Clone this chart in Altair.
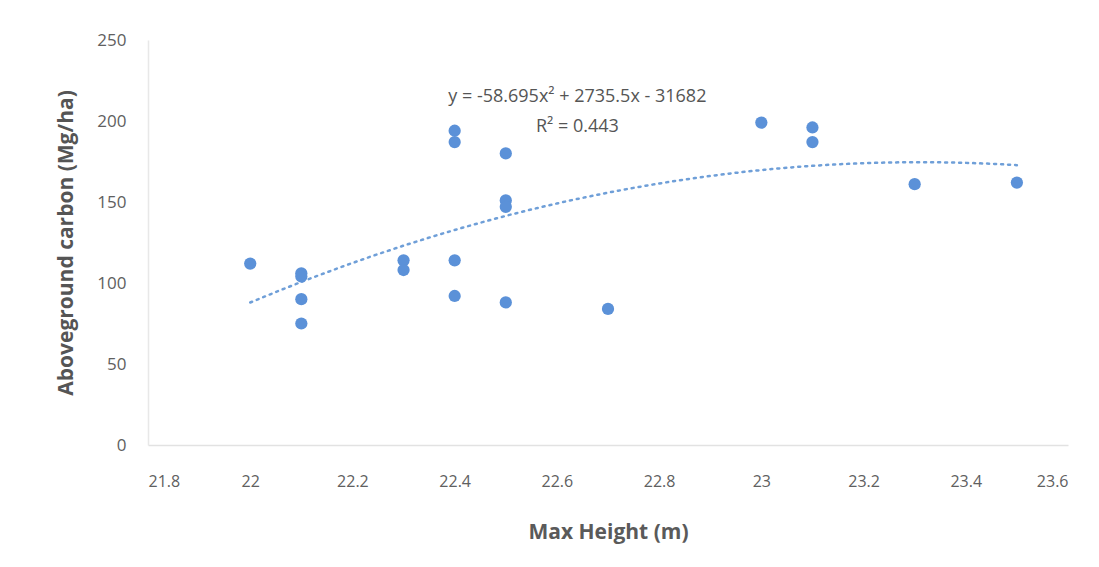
import altair as alt
import pandas as pd

max_height = [22.0, 22.1, 22.1, 22.1, 22.1, 22.3, 22.3, 22.4, 22.4, 22.4, 22.4,
              22.5, 22.5, 22.5, 22.5, 22.7, 23.0, 23.1, 23.1, 23.3, 23.5]
carbon = [112, 106, 104, 90, 75, 114, 108, 194, 187, 114, 92,
          180, 151, 147, 88, 84, 199, 196, 187, 161, 162]

eq_lines = ["y = -58.695x² + 2735.5x - 31682", "R² = 0.443"]
eq_x = [22.64, 22.64]
eq_y = [215, 196]

df = pd.DataFrame({"x": max_height, "y": carbon})
ann = pd.DataFrame({"x": eq_x, "y": eq_y, "t": eq_lines})

FONT = "Open Sans"
xscale = alt.Scale(domain=[21.8, 23.6], nice=False, zero=False)
yscale = alt.Scale(domain=[0, 250], nice=False)

xaxis = alt.Axis(title="Max Height (m)", values=[21.8, 22, 22.2, 22.4, 22.6, 22.8, 23, 23.2, 23.4, 23.6],
                 format="~g", grid=False, ticks=False, domainColor="#e2e2e2", domainWidth=1.5,
                 labelFont=FONT, labelFontSize=16, labelColor="#606060", labelPadding=28,
                 titleFont=FONT, titleFontSize=21, titleFontWeight="bold", titleColor="#5a5a5a",
                 titlePadding=32)
yaxis = alt.Axis(title="Aboveground carbon (Mg/ha)", values=[0, 50, 100, 150, 200, 250],
                 grid=False, ticks=False, domainColor="#e8e8e8", domainWidth=1.5,
                 labelFont=FONT, labelFontSize=17, labelColor="#606060", labelPadding=22,
                 titleFont=FONT, titleFontSize=21, titleFontWeight="bold", titleColor="#555555",
                 titlePadding=20)

base = alt.Chart(df)

points = base.mark_circle(size=150, opacity=1, color="#5b91d8").encode(
    x=alt.X("x:Q", scale=xscale, axis=xaxis),
    y=alt.Y("y:Q", scale=yscale, axis=yaxis),
)

trend = base.transform_regression("x", "y", method="poly", order=2, extent=[22.0, 23.5]).mark_line(
    color="#6f9fd8", strokeDash=[2, 5], strokeWidth=2.5, strokeCap="round"
).encode(x=alt.X("x:Q", scale=xscale), y=alt.Y("y:Q", scale=yscale))

text = alt.Chart(ann).mark_text(font=FONT, fontSize=18, color="#555555", align="center").encode(
    x=alt.X("x:Q", scale=xscale), y=alt.Y("y:Q", scale=yscale), text="t:N"
)

chart = alt.layer(trend, points, text).properties(
    width=920, height=405,
    autosize=alt.AutoSizeParams(type="none"),
    padding={"left": 140, "top": 32, "right": 23, "bottom": 114},
    background="#ffffff",
).configure_view(stroke=None)

chart.save("out.html", embed_options={"renderer": "svg", "actions": False})
